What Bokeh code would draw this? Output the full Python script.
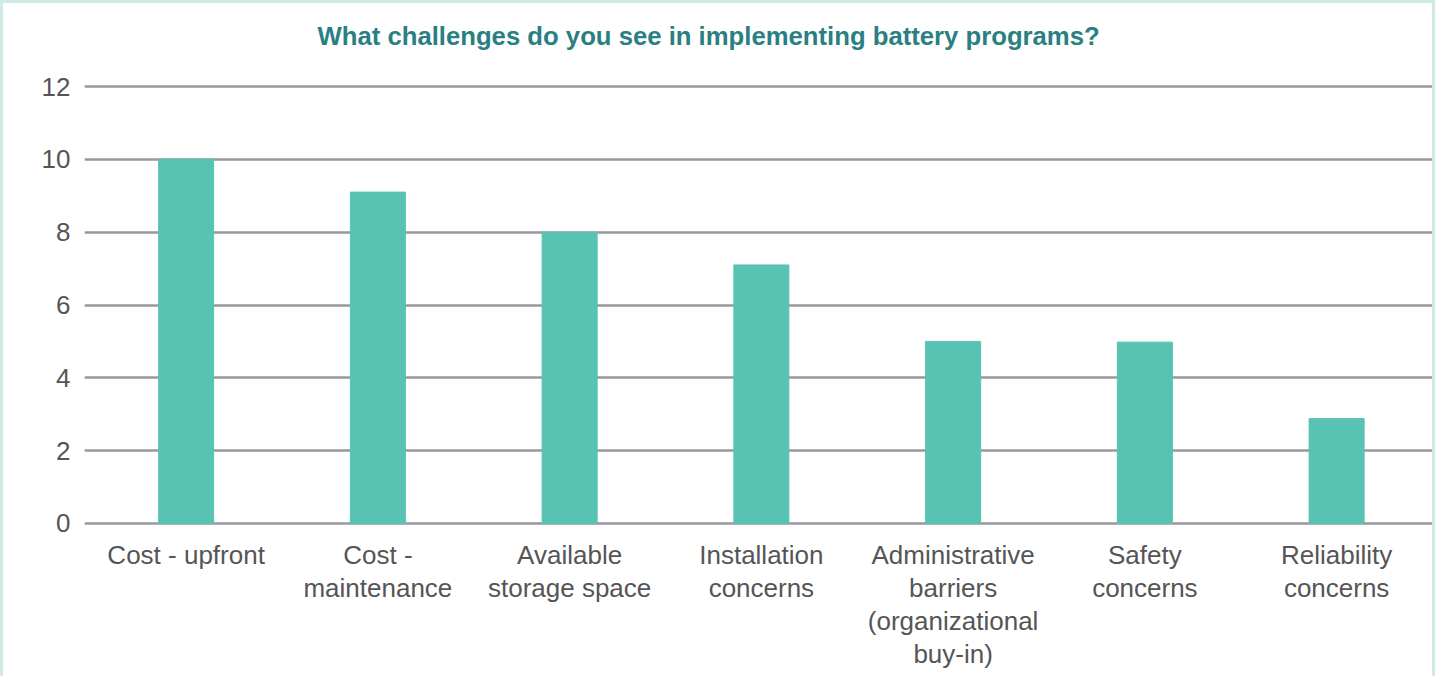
from bokeh.plotting import figure
from bokeh.models import Range1d, FixedTicker, Title
from bokeh.embed import file_html
from bokeh.resources import INLINE

categories = [
    "Cost - upfront",
    "Cost -\nmaintenance",
    "Available\nstorage space",
    "Installation\nconcerns",
    "Administrative\nbarriers\n(organizational\nbuy-in)",
    "Safety\nconcerns",
    "Reliability\nconcerns",
]
values = [10, 9.1, 8, 7.1, 5.0, 4.98, 2.88]
y_ticks = [0, 2, 4, 6, 8, 10, 12]
title_text = "What challenges do you see in implementing battery programs?"

FONT = "Liberation Sans"
xs = list(range(len(categories)))

p = figure(
    width=1435, height=676,
    output_backend="svg", toolbar_location=None,
    x_range=Range1d(-0.53, 6.5), y_range=Range1d(-0.055, 12.055),
    min_border_left=81, min_border_right=6, min_border_top=81, min_border_bottom=154,
)
p.styles = {
    "border-top": "3px solid #CFEBE7",
    "border-left": "3px solid #CFEBE7",
    "border-right": "3px solid #CFEBE7",
}
p.outline_line_color = None
p.background_fill_color = "white"
p.border_fill_color = "white"

p.vbar(x=xs, top=values, width=0.287, color="#58C3B3")

p.xgrid.grid_line_color = None
p.ygrid.grid_line_color = "#99989D"
p.ygrid.grid_line_width = 2.5
p.ygrid.ticker = FixedTicker(ticks=y_ticks)

p.yaxis.ticker = FixedTicker(ticks=y_ticks)
p.xaxis.ticker = FixedTicker(ticks=xs)
p.xaxis.major_label_overrides = {i: c for i, c in zip(xs, categories)}

for ax in (p.xaxis[0], p.yaxis[0]):
    ax.axis_line_color = None
    ax.major_tick_line_color = None
    ax.minor_tick_line_color = None
    ax.major_label_text_font = FONT
    ax.major_label_text_font_size = "26px"
    ax.major_label_text_color = "#555557"
p.xaxis.major_label_text_line_height = 1.1
p.yaxis.major_label_standoff = 8
p.xaxis.major_label_standoff = 8

# empty spacer panel between the frame and the title
p.add_layout(Title(text=" ", standoff=27, text_font_size="1px"), "above")
p.add_layout(Title(
    text=title_text, align="left", offset=233, standoff=10,
    text_font=FONT, text_font_style="bold", text_font_size="25.7px", text_color="#2A7F82",
), "above")

open("out.html", "w").write(file_html(p, INLINE))
